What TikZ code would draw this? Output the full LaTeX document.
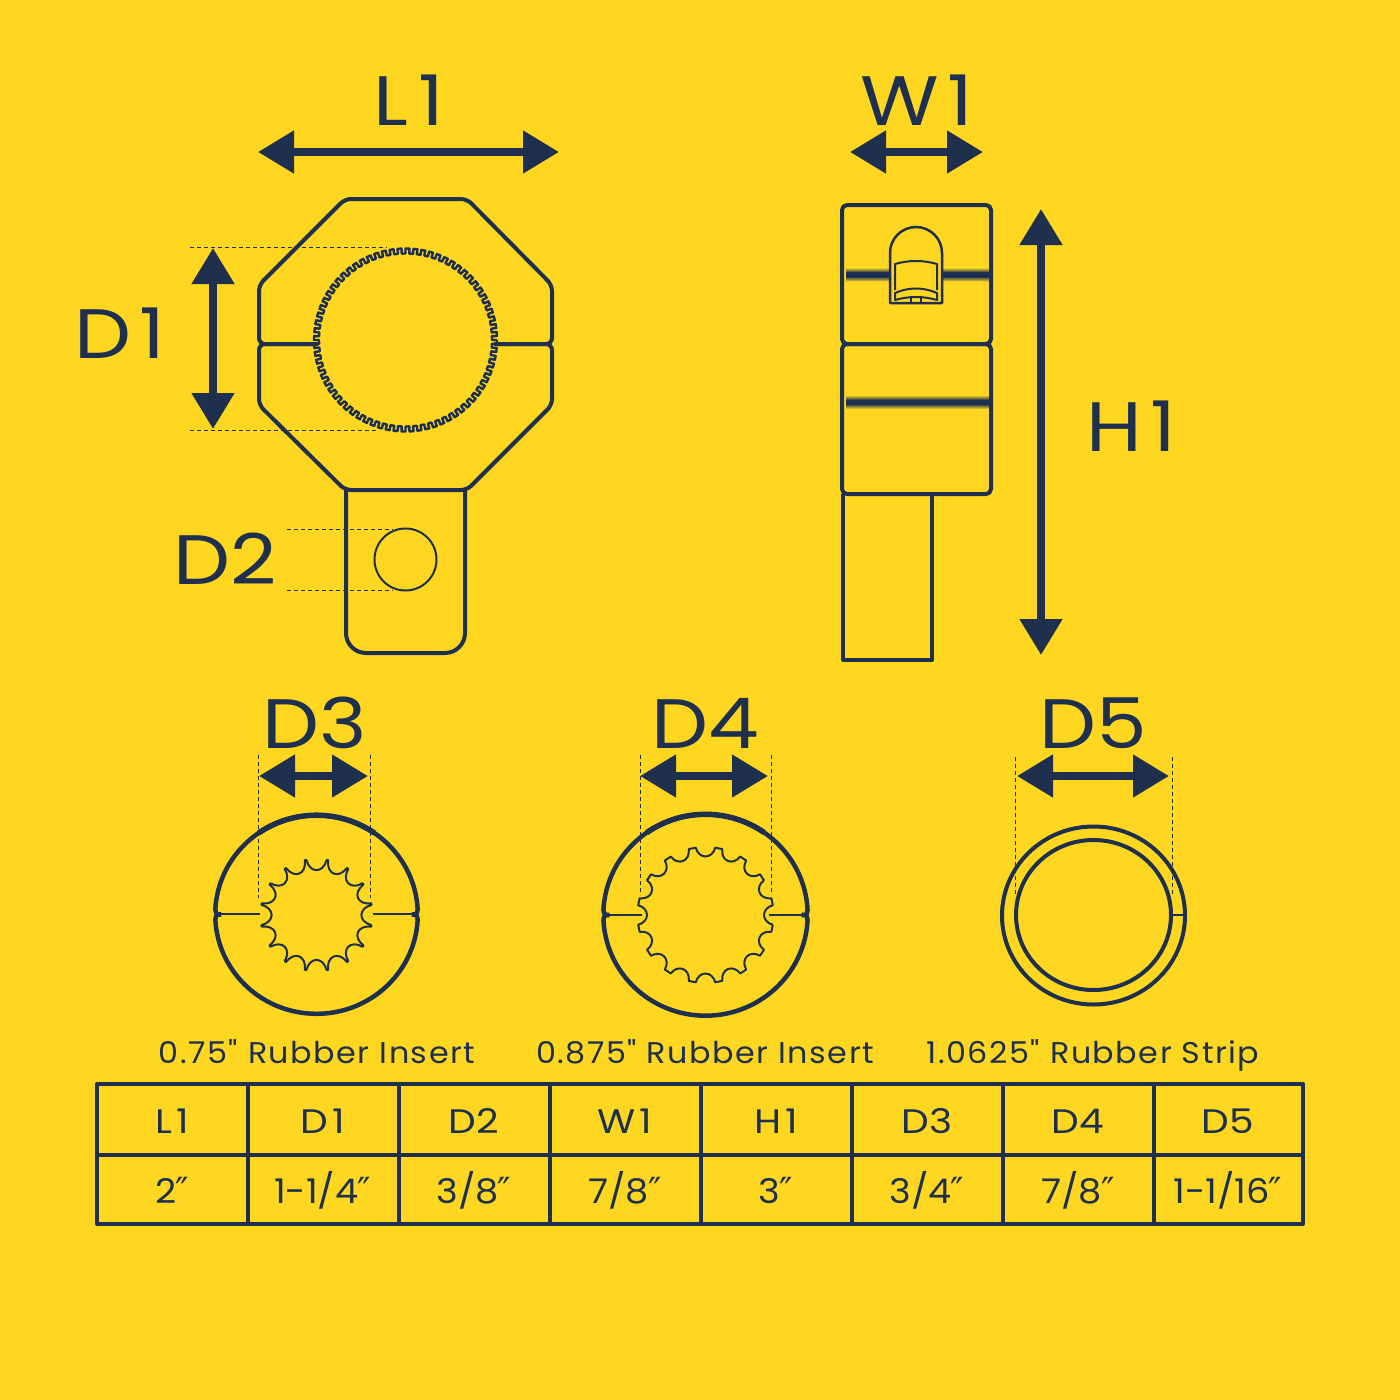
\documentclass[tikz,border=0pt]{standalone}
\usepackage{fontspec}
\setmainfont{Poppins}
\newfontfamily\labelfont[FakeStretch=1.15]{Poppins}
\newfontfamily\valuefont[FakeStretch=1.08]{Poppins}
\newfontfamily\capfont[FakeStretch=1.06,LetterSpace=5]{Poppins}
\newfontfamily\inchfont{DejaVu Sans}
\usetikzlibrary{arrows.meta}
\definecolor{clampyellow}{HTML}{FFD720}
\definecolor{clampnavy}{HTML}{1F304F}
\newcommand{\inchmark}{{\inchfont\fontsize{36}{36}\selectfont\kern-1pt ″}}
\newcommand{\wideone}{\kern0.12em 1}
\tikzset{
    partline/.style = {draw = clampnavy, line width = 4pt, line join = round},
    thinline/.style = {draw = clampnavy, line width = 2pt, line join = round},
    guideline/.style = {draw = clampnavy, line width = 1pt, dash pattern = on 4pt off 3pt},
    dimarrow/.style = {draw = clampnavy, fill = clampnavy, line width = 8pt,
        {Triangle[length = 36pt, width = 41pt]}-{Triangle[length = 36pt, width = 41pt]}},
    biglabel/.style = {text = clampnavy, font = \labelfont\fontsize{70}{70}\selectfont},
    cell/.style = {text = clampnavy, anchor = base, font = \labelfont\fontsize{34}{34}\selectfont},
    valuecell/.style = {text = clampnavy, anchor = base, font = \valuefont\fontsize{34}{34}\selectfont},
    caption/.style = {text = clampnavy, anchor = base, font = \capfont\fontsize{30}{30}\selectfont}
}
\newcommand{\blurband}[1]{
    \shade[top color = clampyellow, bottom color = clampnavy] (846,#1-7) rectangle (989,#1-2);
    \fill[clampnavy] (846,#1-2.1) rectangle (989,#1+2.1);
    \shade[top color = clampnavy, bottom color = clampyellow] (846,#1+2) rectangle (989,#1+7);
}
\newcommand{\teethring}[5]{
    \begin{scope}[shift = {(#1,#2)}]
        \draw[thinline, line width = 2.4pt] (0:#3)
            \foreach \i in {1,...,#5} {
                -- ({(\i-0.5)*(360/#5)}:#3) -- ({(\i-0.5)*(360/#5)}:#4)
                -- ({\i*(360/#5)}:#4) -- ({\i*(360/#5)}:#3)
            };
    \end{scope}
}
\newcommand{\splinebore}[5]{
    \begin{scope}[shift = {(#1,#2)}]
        \draw[thinline] ({11.25-#5}:#3)
            \foreach \i in {0,...,15} {
                -- ({11.25+\i*22.5+#5}:#3)
                .. controls ({11.25+\i*22.5+#5+1.5}:#4) and ({33.75+\i*22.5-#5-1.5}:#4)
                .. ({33.75+\i*22.5-#5}:#3)
            };
    \end{scope}
}
\newcommand{\splitshell}[4]{
    \begin{scope}[shift = {(#1,#2)}]
        \draw[partline, line width = 4.5pt] (#3-6,0) .. controls (#3-1,0) .. (-3:#3 and #4)
            arc[start angle = -3, end angle = -177, x radius = #3, y radius = #4]
            .. controls (-#3+1,0) .. (-#3+6,0);
        \draw[partline, line width = 4.5pt] (#3-6,0) .. controls (#3-1,0) .. (3:#3 and #4)
            arc[start angle = 3, end angle = 177, x radius = #3, y radius = #4]
            .. controls (-#3+1,0) .. (-#3+6,0);
        \draw[partline, line width = 5.5pt] (-55:#3 and #4) arc[start angle = -55, end angle = -125, x radius = #3, y radius = #4];
    \end{scope}
}
\begin{document}
\begin{tikzpicture}[x = 1pt, y = -1pt]
    \useasboundingbox (0,0) rectangle (1400,1400);
    \fill[clampyellow] (0,0) rectangle (1400,1400);

    \draw[partline, rounded corners = 6pt] (318,344) -- (259,344) -- (259,285) -- (345,199) -- (467,199)
        -- (552,285) -- (552,344) -- (494,344);
    \draw[partline, rounded corners = 6pt] (318,344) -- (259,344) -- (259,405) -- (345,490) -- (467,490)
        -- (552,405) -- (552,344) -- (494,344);
    \draw[partline, rounded corners = 20pt] (346,490) -- (346,653) -- (465,653) -- (465,490);
    \teethring{405.5}{340}{91.5}{86.5}{72}
    \draw[thinline] (405.5,559.5) circle[radius = 31];
    \draw[guideline] (190,247) -- (387,247);
    \draw[guideline] (190,430) -- (377,430);
    \draw[guideline] (287,529) -- (393,529);
    \draw[guideline] (287,590.5) -- (393,590.5);
    \draw[dimarrow] (258,152) -- (559,152);
    \draw[dimarrow] (213,248) -- (213,429);
    \node[biglabel] (labelLone) at (409,100) {L\kern0.03em\wideone};
    \node[biglabel] (labelDone) at (120,333) {D\wideone};
    \node[biglabel] (labelDtwo) at (225,559) {D2};

    \blurband{274.5}
    \blurband{402}
    \draw[partline, rounded corners = 5pt] (842,344) -- (842,205) -- (991,205) -- (991,344) -- cycle;
    \draw[partline, rounded corners = 5pt] (842,344) -- (842,494) -- (991,494) -- (991,344) -- cycle;
    \draw[partline] (843,494) -- (843,660) -- (932,660) -- (932,494);
    \draw[thinline, fill = clampyellow, line width = 2.5pt] (890,303) -- (890,253) arc[start angle = 180, end angle = 360, radius = 26]
        -- (942,303) -- cycle;
    \draw[thinline] (895,290) -- (895,264) .. controls (909,260) and (923,260) .. (937,264) -- (937,290);
    \draw[thinline] (895,293) .. controls (909,287) and (923,287) .. (937,293) -- (937,300)
        .. controls (923,296) and (909,296) .. (895,300) -- cycle;
    \draw[thinline] (911,297) -- (911,303);
    \draw[thinline] (921,297) -- (921,303);
    \draw[dimarrow] (850,152) -- (983,152);
    \draw[dimarrow] (1041,209) -- (1041,655);
    \node[biglabel] (labelWone) at (917,100) {W\wideone};
    \node[biglabel] (labelHone) at (1131,426) {H\wideone};

    \splitshell{316.5}{914.5}{101.3}{99.3}
    \draw[thinline, line width = 2.5pt] (218,914) -- (260,914);
    \draw[thinline, line width = 2.5pt] (373,914) -- (415,914);
    \splinebore{316.5}{915}{56}{42}{0.8}
    \draw[guideline] (258,755) -- (258,898);
    \draw[guideline] (370,755) -- (370,898);
    \draw[dimarrow] (259,776) -- (368,776);
    \node[biglabel] (labelDthree) at (315,723) {D3};
    \node[caption] (captionDthree) at (317,1063) {0.75" Rubber Insert};

    \splitshell{705.5}{915}{102.2}{100.7}
    \draw[thinline, line width = 2.5pt] (607,915) -- (642,915);
    \draw[thinline, line width = 2.5pt] (769,915) -- (804,915);
    \splinebore{705.5}{915}{68}{56}{3}
    \draw[guideline] (640,755) -- (640,895);
    \draw[guideline] (771,755) -- (771,895);
    \draw[dimarrow] (640,776) -- (768,776);
    \node[biglabel] (labelDfour) at (705,723) {D4};
    \node[caption] (captionDfour) at (705,1063) {0.875" Rubber Insert};

    \draw[partline] (1093.5,915.5) ellipse[x radius = 91.5, y radius = 89];
    \draw[partline] (1093.5,915) ellipse[x radius = 77.5, y radius = 75];
    \draw[thinline] (1173,915) -- (1185,915);
    \draw[guideline] (1015,757) -- (1015,897);
    \draw[guideline] (1172,757) -- (1172,897);
    \draw[dimarrow] (1017,776) -- (1169,776);
    \node[biglabel] (labelDfive) at (1093,723) {D5};
    \node[caption] (captionDfive) at (1093,1063) {1.0625" Rubber Strip};

    \draw[partline] (97,1084) rectangle (1303,1224);
    \draw[partline] (97,1154.5) -- (1303,1154.5);
    \foreach \x in {247.5,398.5,549.5,700.5,851.5,1002.5,1153.5} {
        \draw[partline] (\x,1084) -- (\x,1224);
    }
    \foreach \x/\hd/\val [count = \c] in {172/L\wideone/{2\inchmark},322.5/D\wideone/{1-1/4\inchmark},474/D2/{3/8\inchmark},
        625/W\wideone/{7/8\inchmark},776/H\wideone/{3\inchmark},927/D3/{3/4\inchmark},1078/D4/{7/8\inchmark},1228/D5/{1-1/16\inchmark}} {
        \node[cell] (head\c) at (\x,1133) {\hd};
        \node[valuecell] (value\c) at (\x,1203) {\val};
    }
\end{tikzpicture}
\end{document}
